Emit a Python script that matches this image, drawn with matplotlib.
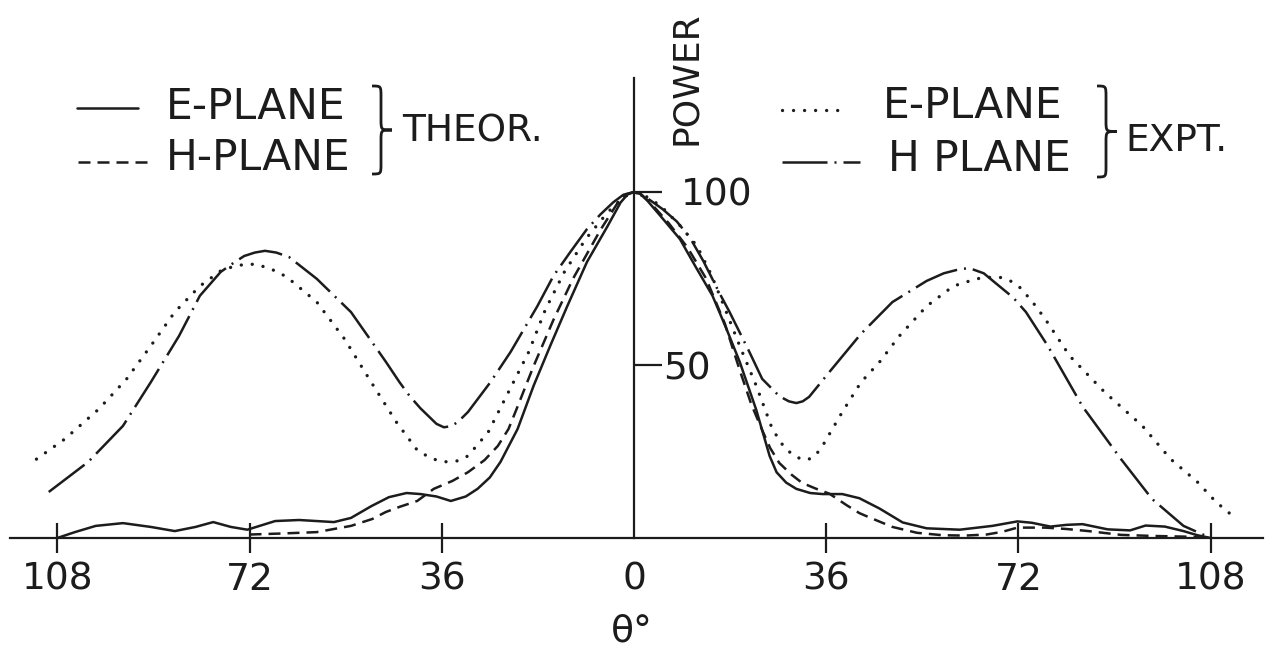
import matplotlib
matplotlib.use("Agg")
import matplotlib.pyplot as plt
from matplotlib.path import Path
from matplotlib.patches import PathPatch
from matplotlib.lines import Line2D

# theoretical E-plane (solid)
e_theor_x = [-108, -104.7, -100.8, -95.7, -90.5, -86, -82.1, -78.8, -75.5, -72.4, -67.2, -62.7,
             -56.2, -53, -49.2, -45.9, -42.6, -40, -37, -34.3, -31.5, -29.3, -27, -25, -21.8,
             -18.8, -15.7, -12.5, -8.8, -5, -2.5, -1.2, 0, 1.2, 2.5, 5, 8.6, 11.5, 14.7, 17.3,
             19.8, 22.9, 25.4, 26.7, 28.5, 30.4, 33, 35.3, 39, 42.2, 46, 50.3, 54.8, 61, 67.1,
             71.8, 74.5, 78, 81, 84, 88.7, 92.9, 95.8, 99.4, 102.9, 105.5, 108]
e_theor_y = [0, 1.7, 3.5, 4.3, 3.2, 2.0, 3.2, 4.6, 3.2, 2.4, 4.9, 5.2,
             4.6, 5.8, 9.2, 11.8, 13.0, 12.7, 12, 10.7, 12, 14.2, 17.5, 22, 31.5,
             44, 55.5, 67, 79.8, 90, 97, 99.3, 100, 99.4, 97.5, 93, 86.4, 78.5, 70, 60.5,
             50.9, 37, 23.7, 19, 16, 14.2, 13, 12.7, 12.7, 11.5, 8.5, 4.5, 2.8, 2.4, 3.5,
             4.8, 4.4, 3.3, 3.8, 4.0, 2.5, 2.2, 3.6, 3.3, 2.0, 0.8, 0]

# theoretical H-plane (dashed)
h_theor_x = [-72, -66, -59.4, -53, -49, -46.5, -43.9, -40.6, -37.5, -34, -31.1, -28, -25.5,
             -23.5, -21.8, -18.8, -15.1, -11.4, -6.3, -3, -1.3, 0, 1.3, 3, 6.5, 10, 13.5, 17,
             19.8, 22, 24, 25.5, 27.2, 29.5, 31.5, 34, 36.6, 39.8, 42.2, 44, 48.4, 53, 57.8,
             62, 66, 69, 71.8, 77, 81, 85.1, 91.2, 97, 103, 108]
h_theor_y = [1.0, 1.3, 1.7, 3.5, 5.5, 7.5, 9.0, 10.7, 14.2, 16.5, 19, 22.5, 26.6,
             31.5, 38, 49.7, 63, 75, 89, 97, 99.4, 100, 99.4, 97, 91, 84, 75, 62,
             48.5, 38.5, 31.2, 26, 21.7, 18.3, 15.9, 14.3, 12.8, 9.5, 7.2, 6, 3.2, 1.5, 0.8,
             0.7, 1.0, 1.8, 3.0, 3.0, 2.6, 2.0, 0.9, 0.6, 0.4, 0]

# experimental E-plane (dotted)
e_expt_x = [-111.9, -106.6, -100.2, -95, -90.5, -86, -81.3, -77.4, -75, -72.4, -70.5, -68.5,
            -66.5, -64.6, -59.4, -54.2, -49.2, -44.5, -40.6, -38, -35.6, -33, -31.1, -27.3,
            -23.5, -19.7, -16.6, -13, -9, -5, -2, 0, 2, 5, 8.5, 11.8, 14.5, 16.6, 19.8, 22.9,
            25.9, 28, 29.1, 30.5, 32.3, 33.8, 35.3, 39, 42.5, 46, 49.7, 54.8, 59.8, 64.1, 66,
            68.4, 70.3, 72.2, 74.5, 77, 81.6, 88.1, 95.2, 100.5, 105.5, 109, 112.8]
e_expt_y = [22.8, 28.6, 37.3, 46, 55.5, 65.3, 72.8, 77.2, 78.5, 79.2, 79, 78,
            76.8, 74.9, 68.2, 57.5, 45, 33.5, 25.4, 23, 22, 22.3, 23.7, 30.6,
            42.2, 53.8, 66, 77, 86.5, 94, 98.5, 100, 99, 96, 90.5, 84.4, 76, 68, 55.5, 44,
            31.5, 26.5, 24.9, 23.3, 22.5, 23.5, 26.6, 36.4, 45, 50.9, 58.4, 67, 72.8, 74.9, 75.3,
            75.4, 74.5, 72.5, 68.5, 63.3, 52.6, 42.2, 32.4, 22.8, 16.2, 10.4, 5.5]

# experimental H-plane (dash-dot)
h_expt_x = [-109.6, -102.2, -95.7, -90.5, -85.2, -81.3, -77.4, -75, -73, -71, -69.1, -67,
            -64.6, -59.4, -53, -46.5, -43.9, -42, -40, -38, -37, -35.6, -34.3, -33, -31.1,
            -26.9, -23.1, -18.1, -15.1, -12, -8.8, -6.3, -3.9, -2, 0, 2.5, 5.4, 8, 10.4, 13,
            16, 17.9, 21.6, 24, 27.2, 29, 30.4, 31.6, 32.8, 36.6, 42.5, 48.4, 54.8, 58, 61,
            62.8, 65.5, 68.4, 71, 73.4, 77.5, 84, 91.2, 97, 102.9, 108]
h_expt_y = [13.3, 22, 32.4, 45, 58.4, 70, 76.9, 79.5, 81.5, 82.5, 83, 82.5,
            81.2, 74.9, 65.3, 51, 45, 41, 37.5, 34.5, 33, 32, 32.3, 33.5, 36.4,
            45, 53.8, 67, 75.7, 82.5, 89.3, 93.5, 97, 99.2, 100, 98.2, 95, 91.5, 87, 80,
            70.8, 65.3, 53.8, 46, 41, 39.5, 39, 39.5, 40.8, 48, 59, 68.2, 74.3, 76.5, 77.7,
            78, 76.5, 72.8, 69.5, 65.3, 55.5, 38, 22.8, 11.3, 3.5, 0]

x_ticks = [-108, -72, -36, 0, 36, 72, 108]
x_tick_labels = ["108", "72", "36", "0", "36", "72", "108"]
y_ticks = [50, 100]
y_tick_labels = ["50", "100"]

W, H = 1274, 668
ink = "#1c1c1c"
font = "DejaVu Sans"


def fx(x):
    return x / W


def fy(y):
    return 1 - y / H


fig = plt.figure(figsize=(12.74, 6.68), dpi=100)
ax = fig.add_axes([0, 0, 1, 1])
ax.set_xlim(-634 / 5.34, 640 / 5.34)
ax.set_ylim(-130 / 3.46, 538 / 3.46)

solid = dict(color=ink, lw=1.8, solid_joinstyle="round", solid_capstyle="round")
dashed = dict(color=ink, lw=1.8, linestyle=(0, (4.8, 2.8)))
dotted = dict(color=ink, lw=2.4, linestyle=(0, (0.01, 3.3)), dash_capstyle="round")
dashdot = dict(color=ink, lw=1.8, linestyle=(0, (18, 2.8, 0.8, 2.8)))

ax.plot(e_theor_x, e_theor_y, **solid)
ax.plot(h_theor_x, h_theor_y, **dashed)
ax.plot(e_expt_x, e_expt_y, **dotted)
ax.plot(h_expt_x, h_expt_y, **dashdot)

for s in ["top", "left"]:
    ax.spines[s].set_visible(False)
ax.spines["bottom"].set_position(("data", 0))
ax.spines["bottom"].set_bounds(-116.9, 117.8)
ax.spines["right"].set_position(("data", 0))
ax.spines["right"].set_bounds(0, 133)
for s in ["bottom", "right"]:
    ax.spines[s].set_linewidth(1.6)
    ax.spines[s].set_color(ink)

ax.yaxis.set_ticks_position("right")
ax.set_xticks(x_ticks, labels=x_tick_labels)
ax.set_yticks(y_ticks, labels=y_tick_labels)
ax.tick_params(axis="x", direction="inout", length=21, width=1.6, pad=6.5,
               labelsize=27, colors=ink, labelfontfamily=font)
ax.tick_params(axis="y", direction="out", length=20, width=1.6, pad=6,
               labelsize=27, colors=ink, labelfontfamily=font)
ax.xaxis.get_major_ticks()[3].tick1line.set_visible(False)
ax.yaxis.get_major_ticks()[1].set_pad(14)
ax.yaxis.get_major_ticks()[0].set_pad(1)

# axis titles
fig.text(fx(632), fy(632), "\u03b8\u00b0", ha="center", va="center", fontsize=27,
         color=ink, family=font)
fig.text(fx(686), fy(78), "POWER", ha="center", va="center", rotation=90, fontsize=26,
         color=ink, family=font)


def sample(x0, x1, y, style):
    fig.add_artist(Line2D([fx(x0), fx(x1)], [fy(y), fy(y)], transform=fig.transFigure, **style))


def brace(x0, x1, y0, y1):
    xm = x0 + (x1 - x0) * 0.45
    ym = (y0 + y1) / 2
    r = (y1 - y0) * 0.12
    pts = [(x0, y0), (xm, y0), (xm, y0), (xm, y0 + r), (xm, ym - r),
           (xm, ym), (xm, ym), (x1, ym),
           (xm, ym), (xm, ym), (xm, ym + r), (xm, y1 - r),
           (xm, y1), (xm, y1), (x0, y1)]
    codes = [Path.MOVETO] + [Path.CURVE4] * 3 + [Path.LINETO] + [Path.CURVE4] * 6 + \
            [Path.LINETO] + [Path.CURVE4] * 3
    path = Path([(fx(a), fy(b)) for a, b in pts], codes)
    fig.add_artist(PathPatch(path, fill=False, lw=2.0, edgecolor=ink, transform=fig.transFigure))


label_kw = dict(ha="left", va="center", fontsize=30.5, color=ink, family=font)

# theoretical legend
sample(77, 138, 108, solid)
sample(78, 148, 162, dashed)
fig.text(fx(166), fy(107), "E-PLANE", **label_kw)
fig.text(fx(166), fy(158), "H-PLANE", **label_kw)
brace(372, 392, 86, 174)
fig.text(fx(402), fy(131), "THEOR.", ha="left", va="center", fontsize=27, color=ink, family=font)

# experimental legend
sample(782, 845, 110, dotted)
sample(782, 860, 162, dashdot)
fig.text(fx(883), fy(106), "E-PLANE", **label_kw)
fig.text(fx(888), fy(159), "H PLANE", **label_kw)
brace(1097, 1117, 86, 177)
fig.text(fx(1125), fy(141), "EXPT.", ha="left", va="center", fontsize=27, color=ink, family=font)

fig.savefig("out.png", dpi=100, facecolor="white")
